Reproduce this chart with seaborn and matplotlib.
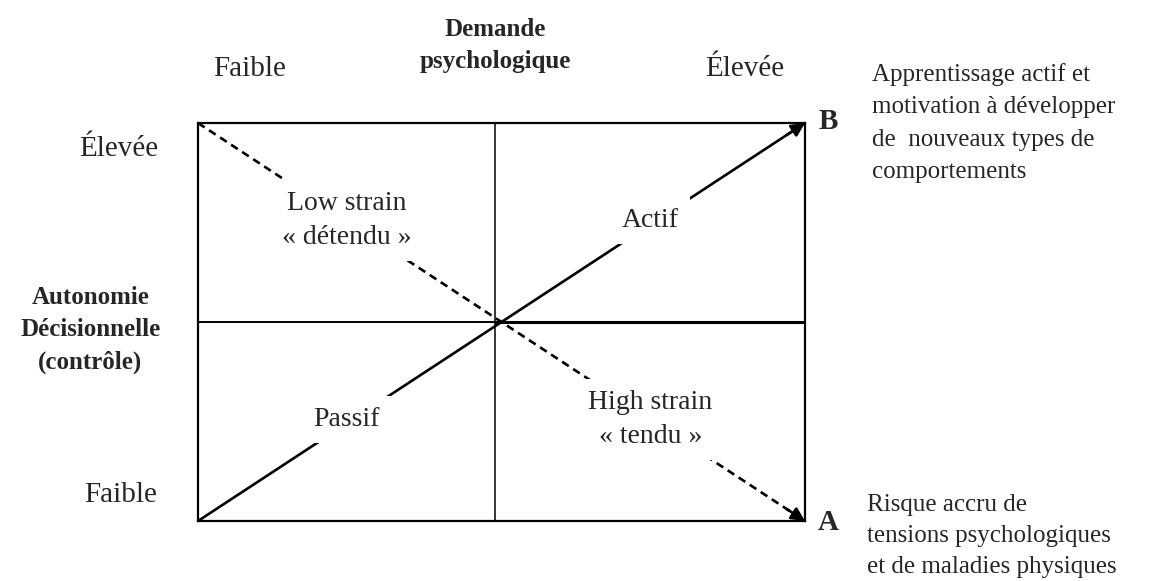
import numpy as np
import pandas as pd
import matplotlib
matplotlib.use("Agg")
import matplotlib.pyplot as plt
import seaborn as sns

# Karasek model: demand (x) vs decision latitude (y)
demand_levels = ["Faible", "Élevée"]
control_levels = ["Faible", "Élevée"]
x_title = "Demande\npsychologique"
y_title = "Autonomie\nDécisionnelle\n(contrôle)"
quad_labels = {
    (0, 1): "Low strain\n« détendu »",
    (1, 1): "Actif",
    (0, 0): "Passif",
    (1, 0): "High strain\n« tendu »",
}
# diagonals: learning (Faible->Élevée on both), strain (low demand/high control -> high demand/low control)
learn_x = [0, 2]
learn_y = [0, 2]
strain_x = [0, 2]
strain_y = [2, 0]
end_labels = ["B", "A"]
note_b = "Apprentissage actif et\nmotivation à développer\nde  nouveaux types de\ncomportements"
note_a = "Risque accru de\ntensions psychologiques\net de maladies physiques"

sns.set_style("white")
plt.rcParams["font.family"] = ["Liberation Serif", "DejaVu Serif"]

fig = plt.figure(figsize=(11.5, 5.81), dpi=100)
ax = fig.add_axes([198 / 1150, 60 / 581, 607 / 1150, 398 / 581])
ax.set_xlim(0, 2)
ax.set_ylim(0, 2)
ax.set_xticks([])
ax.set_yticks([])
for s in ax.spines.values():
    s.set_linewidth(1.6)
    s.set_color("black")

# quadrant dividers
ax.axvline(0.98, color="black", lw=1.1)
ax.plot([0, 0.98], [1, 1], color="black", lw=1.4)
ax.plot([0.98, 2], [1, 1], color="black", lw=2.2)

# diagonals
lines = pd.DataFrame({"x": learn_x + strain_x, "y": learn_y + strain_y,
                      "axe": ["apprentissage"] * 2 + ["tension"] * 2})
sns.lineplot(data=lines, x="x", y="y", hue="axe", style="axe",
             palette=["black", "black"], dashes=[(None, None), (3, 2)],
             lw=1.9, legend=False, ax=ax, sort=False, estimator=None)
for xs, ys in [(learn_x, learn_y), (strain_x, strain_y)]:
    ax.annotate("", xy=(xs[1], ys[1]),
                xytext=(xs[1] - 0.06 * np.sign(xs[1] - xs[0]), ys[1] - 0.06 * np.sign(ys[1] - ys[0])),
                arrowprops=dict(arrowstyle="-|>", color="black", lw=1.9, mutation_scale=20,
                                shrinkA=0, shrinkB=0))

# quadrant labels with white background to cut the diagonals
for (i, j), lab in quad_labels.items():
    ax.text(i + 0.49, j + 0.51, lab, ha="center", va="center", fontsize=20,
            linespacing=1.45, zorder=5,
            bbox=dict(facecolor="white", edgecolor="none", boxstyle="square,pad=0.4"))

# axis level labels
ax.text(0.17, 2.27, demand_levels[0], ha="center", va="center", fontsize=21, clip_on=False)
ax.text(1.80, 2.27, demand_levels[1], ha="center", va="center", fontsize=21, clip_on=False)
ax.text(0.98, 2.39, x_title, ha="center", va="center", fontsize=18, fontweight="bold",
        linespacing=1.5, clip_on=False)
ax.text(-0.26, 1.87, control_levels[1], ha="center", va="center", fontsize=21, clip_on=False)
ax.text(-0.255, 0.13, control_levels[0], ha="center", va="center", fontsize=21, clip_on=False)
ax.text(-0.355, 0.96, y_title, ha="center", va="center", fontsize=18, fontweight="bold",
        linespacing=1.5, clip_on=False)

# endpoint letters and notes
ax.text(2.075, 2.01, end_labels[0], ha="center", va="center", fontsize=21, fontweight="bold", clip_on=False)
ax.text(2.075, -0.01, end_labels[1], ha="center", va="center", fontsize=21, fontweight="bold", clip_on=False)
ax.text(2.22, 2.0, note_b, ha="left", va="center", fontsize=18, linespacing=1.6, clip_on=False)
ax.text(2.205, -0.075, note_a, ha="left", va="center", fontsize=18, linespacing=1.55, clip_on=False)

fig.savefig("out.png", dpi=100, facecolor="white")
